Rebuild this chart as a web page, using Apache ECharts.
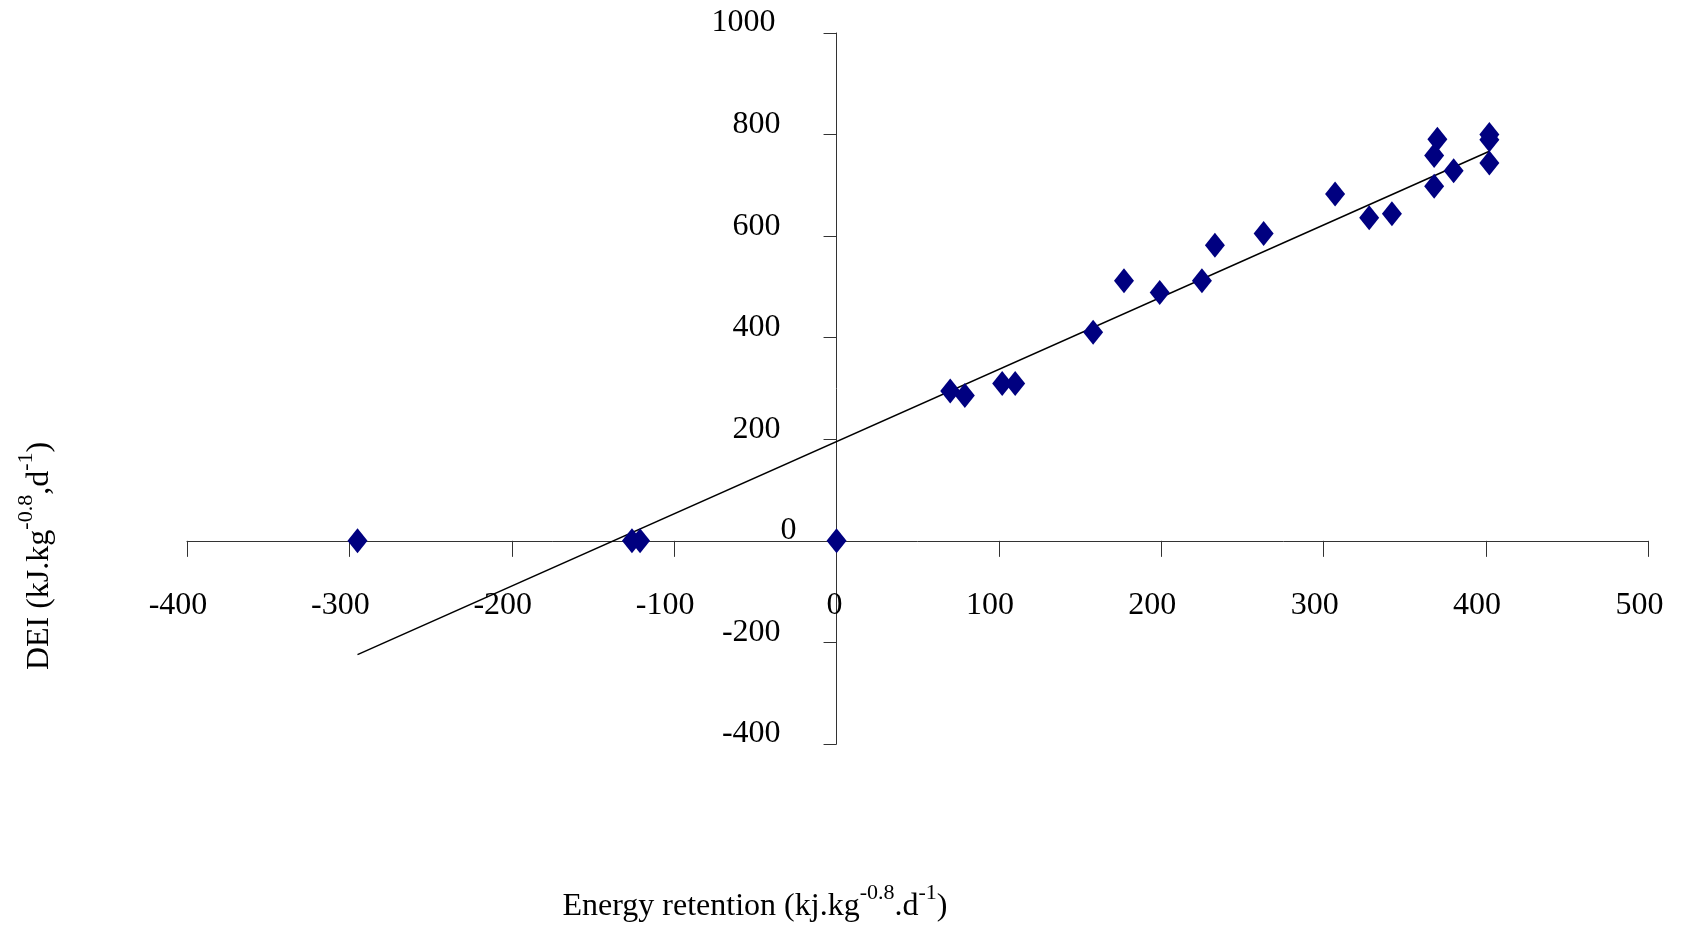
<!DOCTYPE html>
<html>
<head>
<meta charset="utf-8">
<script src="https://cdn.jsdelivr.net/npm/echarts@6/dist/echarts.min.js"></script>
<style>
  html, body { margin: 0; padding: 0; background: #fff; }
  #chart { width: 1685px; height: 927px; }
</style>
</head>
<body>
<div id="chart"></div>
<script>
// ---- data ----
const energyRetention = [-295, -126, -121, 0, 70, 79, 102, 110, 158, 177, 199, 225, 233, 263, 307, 328, 342, 368, 368, 370, 380, 402, 402, 402];
const dei             = [0, 0, 0, 0, 295, 286, 310, 310, 411, 512, 489, 512, 582, 605, 683, 636, 644, 698, 759, 791, 729, 800, 790, 744];
const trendX = [-295, 402];
const trendY = [-224, 767];
const xTicks = [-400, -300, -200, -100, 0, 100, 200, 300, 400, 500];
const yTicks = [-400, -200, 0, 200, 400, 600, 800, 1000];
const xTitle = 'Energy retention (kj.kg';
const yTitle = 'DEI (kJ.kg';

const FONT = '"Liberation Serif", "Times New Roman", serif';
const W = 1685, H = 927;
const G = { left: 187, right: 36.5, top: 33, bottom: 183 };

const points = energyRetention.map((x, i) => [x, dei[i]]);
const trend = trendX.map((x, i) => [x, trendY[i]]);

const xMin = xTicks[0], xMax = xTicks[xTicks.length - 1];
const yMin = yTicks[0], yMax = yTicks[yTicks.length - 1];
// move the axes so they cross at the origin (labels follow them)
const gridW = W - G.left - G.right, gridH = H - G.top - G.bottom;
const yAxisOffset = -((0 - xMin) / (xMax - xMin)) * gridW;
const xAxisOffset = -((0 - yMin) / (yMax - yMin)) * gridH;

const chart = echarts.init(document.getElementById('chart'), null, { renderer: 'canvas' });

const richTitle = {
  a: { fontFamily: FONT, fontSize: 32, lineHeight: 50, color: '#000', verticalAlign: 'middle' },
  s: { fontFamily: FONT, fontSize: 22, lineHeight: 22, color: '#000', verticalAlign: 'top' }
};

chart.setOption({
  animation: false,
  backgroundColor: '#fff',
  grid: { left: G.left, right: G.right, top: G.top, bottom: G.bottom, containLabel: false },
  xAxis: {
    type: 'value', position: 'bottom', offset: xAxisOffset,
    min: xMin, max: xMax, interval: xTicks[1] - xTicks[0],
    axisLine: { show: true, onZero: false, lineStyle: { color: '#333', width: 1 } },
    axisTick: { show: true, inside: false, length: 16, lineStyle: { color: '#333', width: 1 } },
    splitLine: { show: false },
    axisLabel: {
      show: true, margin: 49, showMinLabel: true, showMaxLabel: true, hideOverlap: false,
      formatter: v => v === 0 ? '{z|0}' : '{n|' + v + '}',
      rich: {
        n: { fontFamily: FONT, fontSize: 32, lineHeight: 32, color: '#000', padding: [0, 18, 0, 0] },
        z: { fontFamily: FONT, fontSize: 32, lineHeight: 32, color: '#000', padding: [0, 4, 0, 0] }
      }
    }
  },
  yAxis: {
    type: 'value', position: 'left', offset: yAxisOffset,
    min: yMin, max: yMax, interval: yTicks[1] - yTicks[0],
    axisLine: { show: true, onZero: false, lineStyle: { color: '#333', width: 1 } },
    axisTick: { show: true, inside: false, length: 13, lineStyle: { color: '#333', width: 1 } },
    splitLine: { show: false },
    axisLabel: {
      show: true, margin: 40, showMinLabel: true, showMaxLabel: true, hideOverlap: false,
      verticalAlign: 'bottom',
      formatter: v => v === 0 ? '{z|0}' : (v === 1000 ? '{w|1000}' : '{n|' + v + '}'),
      rich: {
        n: { fontFamily: FONT, fontSize: 32, lineHeight: 20, color: '#000', padding: [0, 16, 0, 0] },
        w: { fontFamily: FONT, fontSize: 32, lineHeight: 20, color: '#000', padding: [0, 21, 0, 0] },
        z: { fontFamily: FONT, fontSize: 32, lineHeight: 20, color: '#000' }
      }
    }
  },
  graphic: [
    {
      type: 'text', x: 755, y: 907, z: 10,
      style: {
        text: '{a|' + xTitle + '}{s|-0.8}{a|.d}{s|-1}{a|)}',
        rich: richTitle, align: 'center', verticalAlign: 'middle'
      }
    },
    {
      type: 'text', x: 40, y: 556, rotation: Math.PI / 2, z: 10,
      style: {
        text: '{a|' + yTitle + '}{s|-0.8}{a|,d}{s|-1}{a|)}',
        rich: richTitle, align: 'center', verticalAlign: 'middle'
      }
    }
  ],
  series: [
    {
      type: 'line', data: trend, symbol: 'none', silent: true, z: 3,
      lineStyle: { color: '#000', width: 1.6 }
    },
    {
      type: 'scatter', data: points, symbol: 'diamond', symbolSize: [20, 25], z: 4,
      itemStyle: { color: '#000080', opacity: 1 }
    }
  ]
});
</script>
</body>
</html>
